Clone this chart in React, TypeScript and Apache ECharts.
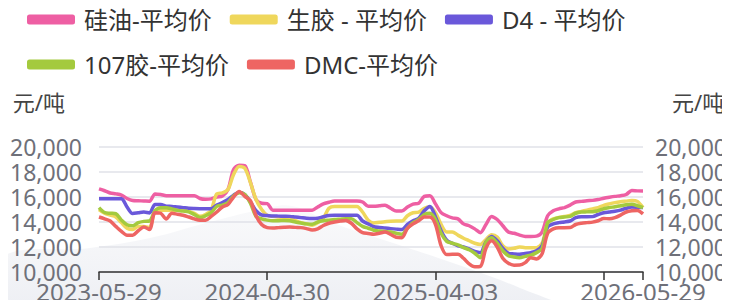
import React, { useEffect, useRef } from "react";
import * as echarts from "echarts";

// Labeled dates on the category axis and their category positions
const labelDates = ["2023-05-29", "2024-04-30", "2025-04-03", "2026-05-29"];
const labelIndex = [0, 30, 60, 97];

const seriesNames = ["硅油-平均价", "生胶 - 平均价", "D4 - 平均价", "107胶-平均价", "DMC-平均价"];
const colors = ["#EE5FA3", "#EFD75C", "#6A58DA", "#A4CA3E", "#EE6563"];

const siliconeOil = [
  16650, 16500, 16320, 16250, 16150, 15880, 15720, 15700, 15680, 15660,
  16250, 16200, 16110, 16110, 16110, 16110, 16110, 16110, 15880, 15820,
  15850, 16000, 16080, 16600, 18200, 18550, 18500, 17200, 15800, 15500,
  15470, 14950, 14950, 14950, 14950, 14950, 14950, 14950, 14950, 15200,
  15450, 15580, 15680, 15680, 15680, 15680, 15680, 15600, 15260, 15260,
  15300, 15350, 15100, 14880, 14880, 15200, 15430, 15500, 16050, 16100,
  15450, 14750, 14500, 14330, 14250, 13850, 13700, 13450, 13150, 13800,
  14450, 14200, 13700, 13200, 13100, 12950, 12850, 12850, 12870, 13200,
  14500, 14900, 15050, 15150, 15350, 15600, 15650, 15700, 15730, 15800,
  15900, 15980, 16050, 16100, 16200, 16520, 16490, 16480,
];
const rawRubber = [
  15000, 14700, 14550, 14400, 13950, 13500, 13400, 13650, 13650, 13550,
  14900, 14950, 14950, 14950, 14950, 14950, 14850, 14700, 14460, 14600,
  14950, 16250, 16330, 16600, 17800, 18450, 18300, 17150, 15800, 15000,
  14530, 14450, 14400, 14360, 14300, 14100, 13950, 13850, 13740, 13950,
  14300, 15100, 15250, 15250, 15250, 15250, 15250, 14800, 14150, 13920,
  13980, 14020, 14060, 14080, 14080, 14500, 14740, 14790, 15100, 15200,
  14750, 13800, 13200, 13200, 12950, 12700, 12500, 12300, 12200, 12600,
  12980, 12800, 12100, 11850, 11900, 12000, 11950, 11950, 11950, 12300,
  13900, 14250, 14370, 14450, 14530, 14750, 14850, 14950, 15050, 15150,
  15330, 15450, 15550, 15620, 15670, 15720, 15650, 15150,
];
const d4 = [
  15870, 15870, 15870, 15870, 15860, 15200, 14680, 14740, 14800, 14730,
  15400, 15400, 15270, 15250, 15200, 15150, 15100, 15080, 15070, 15070,
  15070, 15350, 15550, 15800, 16150, 16380, 16200, 15600, 14900, 14560,
  14520, 14480, 14470, 14460, 14450, 14400, 14350, 14300, 14280, 14300,
  14420, 14520, 14540, 14540, 14540, 14540, 14540, 14080, 13850, 13620,
  13560, 13520, 13470, 13430, 13400, 13800, 14100, 14300, 14900, 15250,
  14400, 13300, 12550, 12300, 12100, 12000, 11850, 11650, 11550, 12400,
  12850, 12500, 11900, 11500, 11450, 11420, 11480, 11550, 11700, 12100,
  13600, 13850, 13950, 14000, 14080, 14350, 14420, 14420, 14430, 14600,
  14740, 14800, 14860, 14950, 15100, 15200, 15180, 15150,
];
const glue107 = [
  15150, 14760, 14700, 14660, 14150, 13780, 13700, 13950, 14050, 14080,
  14900, 15150, 15150, 15050, 14930, 14870, 14810, 14600, 14360, 14500,
  14750, 15250, 15350, 15550, 16100, 16350, 16200, 15500, 14450, 14250,
  14150, 14100, 14100, 14120, 14100, 14000, 13920, 13850, 13820, 14000,
  14100, 14150, 14200, 14230, 14260, 14270, 13950, 13650, 13500, 13340,
  13280, 13240, 13200, 13100, 13030, 13500, 13950, 14200, 14600, 14700,
  14200, 13100, 12450, 12300, 12170, 11950, 11780, 11500, 11150, 12400,
  12750, 12300, 11700, 11300, 11200, 11150, 11250, 11350, 11550, 11880,
  13950, 14200, 14350, 14400, 14450, 14700, 14800, 14810, 14820, 14900,
  15060, 15150, 15220, 15300, 15380, 15420, 15300, 15150,
];
const dmc = [
  14400, 14250, 14080, 13650, 13250, 12950, 12950, 13300, 13600, 13400,
  14750, 14700, 14250, 14700, 14620, 14540, 14400, 14250, 14140, 14140,
  14450, 14800, 15200, 15400, 16000, 16450, 16050, 15700, 14500, 13800,
  13550, 13520, 13550, 13580, 13600, 13570, 13550, 13470, 13360, 13450,
  13720, 13900, 14000, 14080, 14130, 13900, 13450, 13150, 13080, 13020,
  13100, 13200, 13000, 12780, 12750, 13500, 13850, 14100, 14400, 14400,
  13800, 12100, 11400, 11420, 11420, 11100, 10650, 10420, 10450, 11900,
  12500, 12000, 11100, 10700, 10550, 10560, 10750, 11150, 11050, 11450,
  13100, 13450, 13550, 13550, 13560, 13800, 13900, 13950, 13990, 14100,
  14280, 14260, 14350, 14550, 14800, 14900, 14930, 14650,
];

const yMin = 10000;
const yMax = 20000;
const yStep = 2000;
const unitName = "元/吨";

function buildCategories(): string[] {
  const out: string[] = [];
  const day = 86400000;
  for (let a = 0; a < labelIndex.length - 1; a++) {
    const t0 = Date.parse(labelDates[a] + "T00:00:00Z");
    const t1 = Date.parse(labelDates[a + 1] + "T00:00:00Z");
    const n = labelIndex[a + 1] - labelIndex[a];
    for (let k = 0; k < n; k++) {
      const t = t0 + Math.round(((t1 - t0) / day) * (k / n)) * day;
      out.push(new Date(t).toISOString().slice(0, 10));
    }
  }
  out.push(labelDates[labelDates.length - 1]);
  return out;
}

const FONT = "'Noto Sans', 'Noto Sans CJK SC', sans-serif";

export default function App() {
  const ref = useRef<HTMLDivElement>(null);
  useEffect(() => {
    if (!ref.current) return;
    const chart = echarts.init(ref.current, undefined, { renderer: "svg" });
    const categories = buildCategories();
    const values = [siliconeOil, rawRubber, d4, glue107, dmc];
    const labelSet = new Set(labelIndex);
    const fmt = (v: number) => v.toLocaleString("en-US");
    chart.setOption({
      animation: false,
      textStyle: { fontFamily: FONT },
      graphic: [
        {
          type: "polygon",
          z: -10,
          silent: true,
          shape: {
            smooth: 0.4,
            points: [
              [0, 258], [90, 248], [150, 238], [210, 222], [260, 210], [292, 206],
              [330, 222], [390, 242], [450, 262], [520, 288], [560, 308], [0, 308],
            ],
          },
          style: {
            fill: new echarts.graphic.LinearGradient(0, 0, 0, 1, [
              { offset: 0, color: "rgba(240,241,245,0.4)" },
              { offset: 1, color: "rgba(236,238,243,1)" },
            ]),
          },
        },
      ],
      legend: {
        left: 22,
        top: 1,
        icon: "roundRect",
        itemWidth: 48,
        itemHeight: 10,
        itemGap: 18,
        textStyle: {
          fontSize: 24,
          color: "#333",
          lineHeight: 27,
          fontFamily: FONT,
          padding: [0, 0, 0, 4],
        },
        data: seriesNames,
      },
      grid: { left: 99, right: 87, top: 147, bottom: 36, containLabel: false },
      xAxis: {
        type: "category",
        boundaryGap: false,
        data: categories,
        axisLine: { lineStyle: { color: "#333", width: 1.5 } },
        axisTick: {
          length: 8,
          lineStyle: { color: "#333", width: 1.5 },
          interval: (i: number) => i % 30 === 0 || i === categories.length - 1,
        },
        axisLabel: {
          interval: (i: number) => labelSet.has(i),
          fontSize: 24,
          color: "#6E7079",
          margin: 7,
          fontFamily: FONT,
        },
        splitLine: { show: false },
      },
      yAxis: [
        {
          type: "value",
          min: yMin,
          max: yMax,
          interval: yStep,
          name: unitName,
          nameLocation: "end",
          nameGap: 34,
          nameTextStyle: { fontSize: 22, color: "#444", align: "right", padding: [0, 34, 0, 0], fontFamily: FONT },
          axisLine: { show: false },
          axisTick: { show: false },
          axisLabel: { fontSize: 23, color: "#6E7079", margin: 17, formatter: fmt, fontFamily: FONT },
          splitLine: { lineStyle: { color: "#E0E2E8", width: 1.5 } },
        },
        {
          type: "value",
          min: yMin,
          max: yMax,
          interval: yStep,
          position: "right",
          name: unitName,
          nameLocation: "end",
          nameGap: 34,
          nameTextStyle: { fontSize: 22, color: "#444", align: "left", padding: [0, 0, 0, 29], fontFamily: FONT },
          axisLine: { show: false },
          axisTick: { show: false },
          axisLabel: { fontSize: 23, color: "#6E7079", margin: 12, formatter: fmt, fontFamily: FONT },
          splitLine: { show: false },
        },
      ],
      series: seriesNames.map((name, k) => ({
        name,
        type: "line",
        data: values[k],
        yAxisIndex: 0,
        showSymbol: false,
        symbol: "none",
        smooth: 0.3,
        itemStyle: { color: colors[k] },
        lineStyle: { color: colors[k], width: 3.5 },
      })),
    });
    return () => chart.dispose();
  }, []);
  return <div ref={ref} style={{ width: 730, height: 308, margin: -8 }} />;
}
